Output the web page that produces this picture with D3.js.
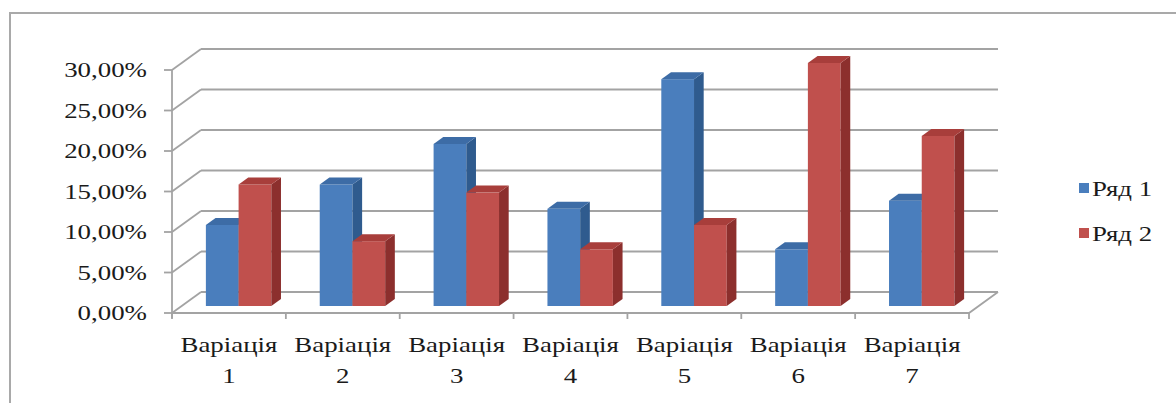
<!DOCTYPE html>
<html>
<head>
<meta charset="utf-8">
<script src="https://cdn.jsdelivr.net/npm/d3@7"></script>
<style>
  html, body { margin: 0; padding: 0; background: #fff; }
  svg { display: block; }
  text { font-family: "Liberation Serif", "Times New Roman", serif; fill: #1a1a1a; }
</style>
</head>
<body>
<svg id="chart" width="1176" height="403"></svg>
<script>
// Data
const categories = ["Варіація 1", "Варіація 2", "Варіація 3", "Варіація 4", "Варіація 5", "Варіація 6", "Варіація 7"];
const seriesNames = ["Ряд 1", "Ряд 2"];
const series1 = [0.10, 0.15, 0.20, 0.12, 0.28, 0.07, 0.13];
const series2 = [0.15, 0.08, 0.14, 0.07, 0.10, 0.30, 0.21];
const yTicks = [0, 0.05, 0.10, 0.15, 0.20, 0.25, 0.30];

const seriesValues = [series1, series2];

// Face colours: front, side, top
const palette = [
  { front: "#4a7ebd", side: "#2f5b8e", top: "#3d6ca6" },
  { front: "#c0504d", side: "#8c2f2d", top: "#a83e3b" }
];

const svg = d3.select("#chart");

// Plot geometry (front plane of the floor and the depth vector of the walls)
const plotLeft = 172, plotRight = 969, plotBottom = 313, plotTop = 70;
const depth = { dx: 29, dy: -21 };
const barDepthStart = 1 / 3, barDepthEnd = 2 / 3;
const gridColor = "#a3a3a3";
const textScale = 1.28;

const x = d3.scaleBand().domain(categories).range([plotLeft, plotRight]).padding(0);
const xs = d3.scaleBand().domain(seriesNames).range([0, x.bandwidth()]).paddingInner(0).paddingOuter(0.74);
const y = d3.scaleLinear().domain([0, 0.30]).range([plotBottom, plotTop]);

const fmt = v => d3.format(".2f")(v * 100).replace(".", ",") + "%";

// Outer frame
svg.append("rect")
  .attr("x", 10).attr("y", 13)
  .attr("width", 1200).attr("height", 420)
  .attr("fill", "none")
  .attr("stroke", "#a9a9a9")
  .attr("stroke-width", 2);

const grid = svg.append("g")
  .attr("stroke", gridColor)
  .attr("stroke-width", 1.8)
  .attr("fill", "none");

// Back wall gridlines and side wall diagonals
yTicks.forEach(t => {
  const yy = y(t);
  grid.append("line")
    .attr("x1", plotLeft + depth.dx).attr("y1", yy + depth.dy)
    .attr("x2", plotRight + depth.dx).attr("y2", yy + depth.dy);
  grid.append("line")
    .attr("x1", plotLeft).attr("y1", yy)
    .attr("x2", plotLeft + depth.dx).attr("y2", yy + depth.dy);
});

// Floor outline
grid.append("path")
  .attr("d", d3.line()([
    [plotLeft, plotBottom], [plotRight, plotBottom], [plotRight + depth.dx, plotBottom + depth.dy]
  ]));

// Value axis line and ticks
grid.append("line")
  .attr("x1", plotLeft).attr("y1", y(0.30))
  .attr("x2", plotLeft).attr("y2", plotBottom + 5);
yTicks.forEach(t => {
  grid.append("line")
    .attr("x1", plotLeft - 8).attr("y1", y(t))
    .attr("x2", plotLeft).attr("y2", y(t));
});

// Category ticks along the front edge of the floor
const catEdges = categories.map(c => x(c)).concat([plotRight]);
catEdges.forEach(cx => {
  grid.append("line")
    .attr("x1", cx).attr("y1", plotBottom)
    .attr("x2", cx).attr("y2", plotBottom + 6);
});

// Bars
const ox = depth.dx * barDepthStart, oy = depth.dy * barDepthStart;
const bx = depth.dx * (barDepthEnd - barDepthStart), by = depth.dy * (barDepthEnd - barDepthStart);
const bars = svg.append("g");

categories.forEach((cat, i) => {
  seriesNames.forEach((s, k) => {
    const v = seriesValues[k][i];
    const x0 = x(cat) + xs(s) + ox;
    const x1 = x0 + xs.bandwidth();
    const y0 = y(0) + oy;
    const y1 = y(v) + oy;
    const c = palette[k];
    const g = bars.append("g");
    // front face
    g.append("rect")
      .attr("x", x0).attr("y", y1)
      .attr("width", x1 - x0).attr("height", y0 - y1)
      .attr("fill", c.front);
    // right side face
    g.append("path")
      .attr("d", d3.line()([[x1, y0], [x1 + bx, y0 + by], [x1 + bx, y1 + by], [x1, y1]]) + "Z")
      .attr("fill", c.side);
    // top face
    g.append("path")
      .attr("d", d3.line()([[x0, y1], [x1, y1], [x1 + bx, y1 + by], [x0 + bx, y1 + by]]) + "Z")
      .attr("fill", c.top);
  });
});

// Value axis labels
yTicks.forEach(t => {
  svg.append("text")
    .attr("transform", `translate(${plotLeft - 25},${y(t) + 7}) scale(${textScale},1)`)
    .attr("text-anchor", "end")
    .attr("font-size", 21)
    .text(fmt(t));
});

// Category labels on two lines
categories.forEach(cat => {
  const cx = x(cat) + x.bandwidth() / 2;
  const parts = cat.split(" ");
  parts.forEach((p, j) => {
    svg.append("text")
      .attr("transform", `translate(${cx},${352 + j * 31}) scale(${textScale},1)`)
      .attr("text-anchor", "middle")
      .attr("font-size", 21)
      .text(p);
  });
});

// Legend
const legend = svg.append("g");
seriesNames.forEach((s, k) => {
  const ly = 183 + k * 45;
  legend.append("rect")
    .attr("x", 1079).attr("y", ly)
    .attr("width", 10).attr("height", 10)
    .attr("fill", palette[k].front);
  legend.append("text")
    .attr("transform", `translate(1092,${ly + 13}) scale(${textScale},1)`)
    .attr("font-size", 21)
    .text(s);
});
</script>
</body>
</html>
